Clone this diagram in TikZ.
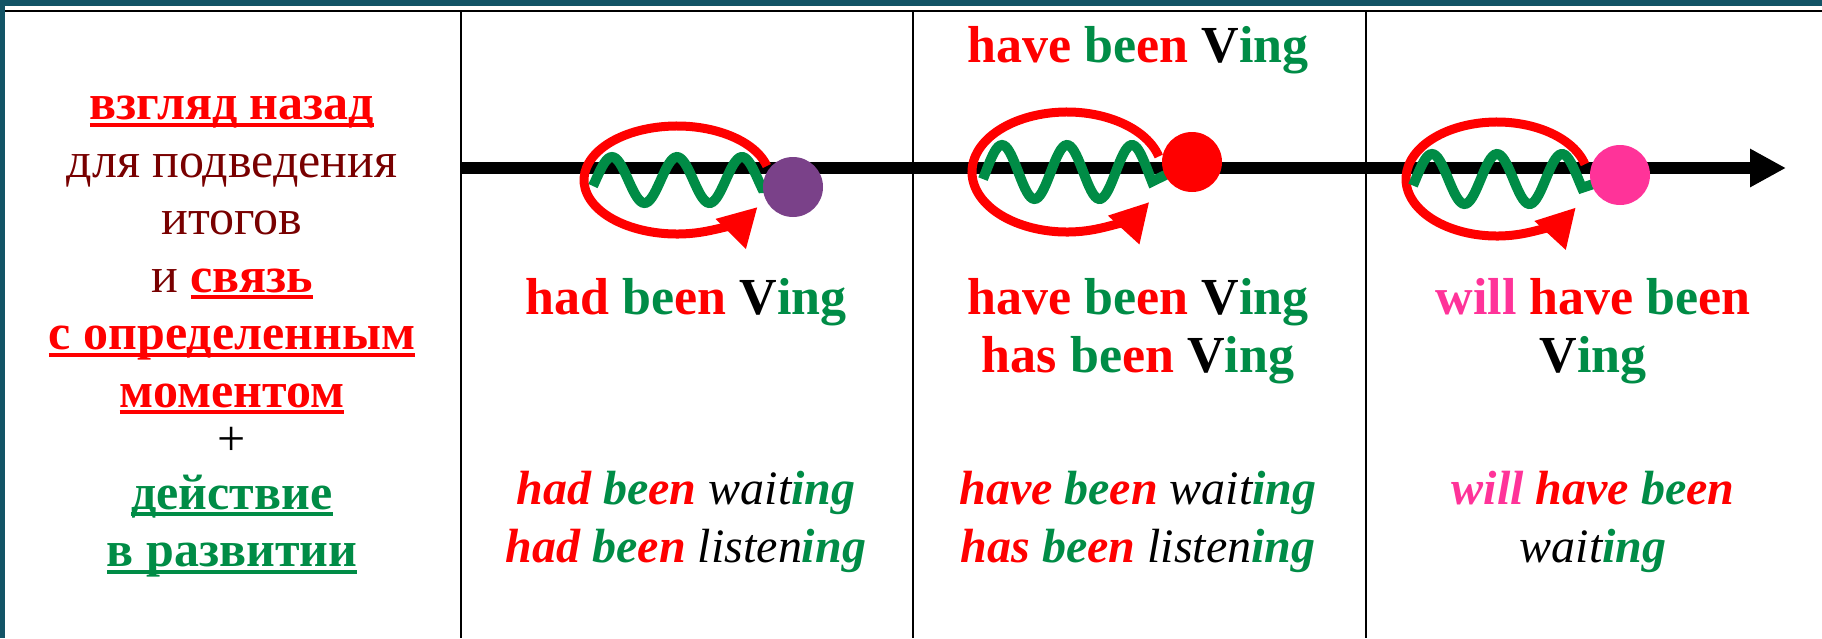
\documentclass[tikz,border=0pt]{standalone}
\usepackage{fontspec}
\IfFontExistsTF{LiberationSerif-Bold.ttf}
  {\setmainfont{LiberationSerif}[Extension=.ttf, UprightFont=*-Regular, BoldFont=*-Bold, ItalicFont=*-Italic, BoldItalicFont=*-BoldItalic]}
  {\setmainfont{DejaVu Serif}[Scale=0.84]}
\usetikzlibrary{arrows.meta}
\definecolor{frame}{RGB}{18,84,102}
\definecolor{tred}{RGB}{255,0,0}
\definecolor{tgreen}{RGB}{0,140,70}
\definecolor{tpink}{RGB}{255,51,153}
\definecolor{tpurple}{RGB}{122,65,137}
\definecolor{tmaroon}{RGB}{120,0,0}
\newsavebox\ulbox
\newcommand{\uln}[1]{\sbox\ulbox{#1}\rlap{\rule[-7pt]{\wd\ulbox}{4pt}}\usebox\ulbox}
\newcommand{\rd}[1]{\textcolor{tred}{#1}}
\newcommand{\gr}[1]{\textcolor{tgreen}{#1}}
\newcommand{\pk}[1]{\textcolor{tpink}{#1}}
\newcommand{\mr}[1]{\textcolor{tmaroon}{#1}}
\newcommand{\been}{\gr{be}\rd{en}}
\newcommand{\vb}{\textcolor{black}{V}\gr{ing}}

\begin{document}
\begin{tikzpicture}[x=1pt, y=-1pt,
  form/.style={align=center, font=\fontsize{52}{58}\selectfont\bfseries, inner sep=0pt},
  exmp/.style={align=center, font=\fontsize{48}{58}\selectfont\itshape, inner sep=0pt},
  lefttxt/.style={align=center, font=\fontsize{50}{57.5}\selectfont, inner sep=0pt},
  colline/.style={line width=2.5pt},
  tline/.style={line width=12pt, -{Triangle[length=36pt,width=36pt]}},
  loopy/.style={tred, line width=9pt, -{Triangle[length=38pt,width=40pt]}},
  wave/.style={tgreen, line width=10pt},
  spot/.style={circle, minimum size=60pt, inner sep=0pt}
]
\useasboundingbox (0,0) rectangle (1822,638);
% frame and table
\fill[frame] (0,0) rectangle (1822,6);
\fill[frame] (0,0) rectangle (5,638);
\draw[colline] (5,11) -- (1822,11);
\foreach \x in {461,913,1366} \draw[colline] (\x,11) -- (\x,638);
% time line
\coordinate (t0) at (461,168);
\coordinate (t1) at (1786,168);
\draw[tline] (t0) -- (t1);
% loops, waves, moments
\foreach \lx/\ly/\rx/\ry/\wa/\dx/\dy/\dc/\n in {677/180/93/54/23/793/187/tpurple/past, 1067/172/95/60/27/1192/162/tred/pres, 1497/179/91/57/25/1620/175/tpink/fut} {
  \pgfmathsetmacro\ws{\lx-84}
  \pgfmathsetmacro\we{\lx+85}
  \pgfmathsetmacro\sx{\lx+\rx*cos(-15)}
  \pgfmathsetmacro\sy{\ly+\ry*sin(-15)}
  \draw[loopy] (\sx,\sy) arc[start angle=-15, end angle=-330, x radius=\rx, y radius=\ry];
  \draw[wave] plot[domain=\ws:\we, samples=90] (\x, {\ly-\wa*cos((\x-\lx)/65*360)}) -- (\dx,\dy);
  \node[spot, fill=\dc] (\n) at (\dx,\dy) {};
}
% column 1
\node[lefttxt] (look) at (232,337) {\rd{\bfseries\uln{взгляд назад}}\\ \mr{для подведения}\\ \mr{итогов}\\ \mr{и} \rd{\bfseries\uln{связь}}\\ \rd{\bfseries\uln{с определенным}}\\ \rd{\bfseries\uln{моментом}}\\[-9pt] +\\[-4pt] \gr{\bfseries\uln{действие}}\\ \gr{\bfseries\uln{в развитии}}};
% column 2
\node[form] (pvng) at (686,302) {\rd{had} \been{} \vb};
\node[exmp] (pex) at (686,522) {{\bfseries\rd{had} \been} wait\gr{\bfseries ing}\\ {\bfseries\rd{had} \been} listen\gr{\bfseries ing}};
% column 3
\node[form] (hvtop) at (1138,50) {\rd{have} \been{} \vb};
\node[form] (hvng) at (1138,331) {\rd{have} \been{} \vb\\ \rd{has} \been{} \vb};
\node[exmp] (hex) at (1138,522) {{\bfseries\rd{have} \been} wait\gr{\bfseries ing}\\ {\bfseries\rd{has} \been} listen\gr{\bfseries ing}};
% column 4
\node[form] (wvng) at (1593,331) {\pk{will} \rd{have} \been\\ \vb};
\node[exmp] (wex) at (1593,522) {{\bfseries\pk{will} \rd{have} \been}\\ wait\gr{\bfseries ing}};
\end{tikzpicture}
\end{document}
